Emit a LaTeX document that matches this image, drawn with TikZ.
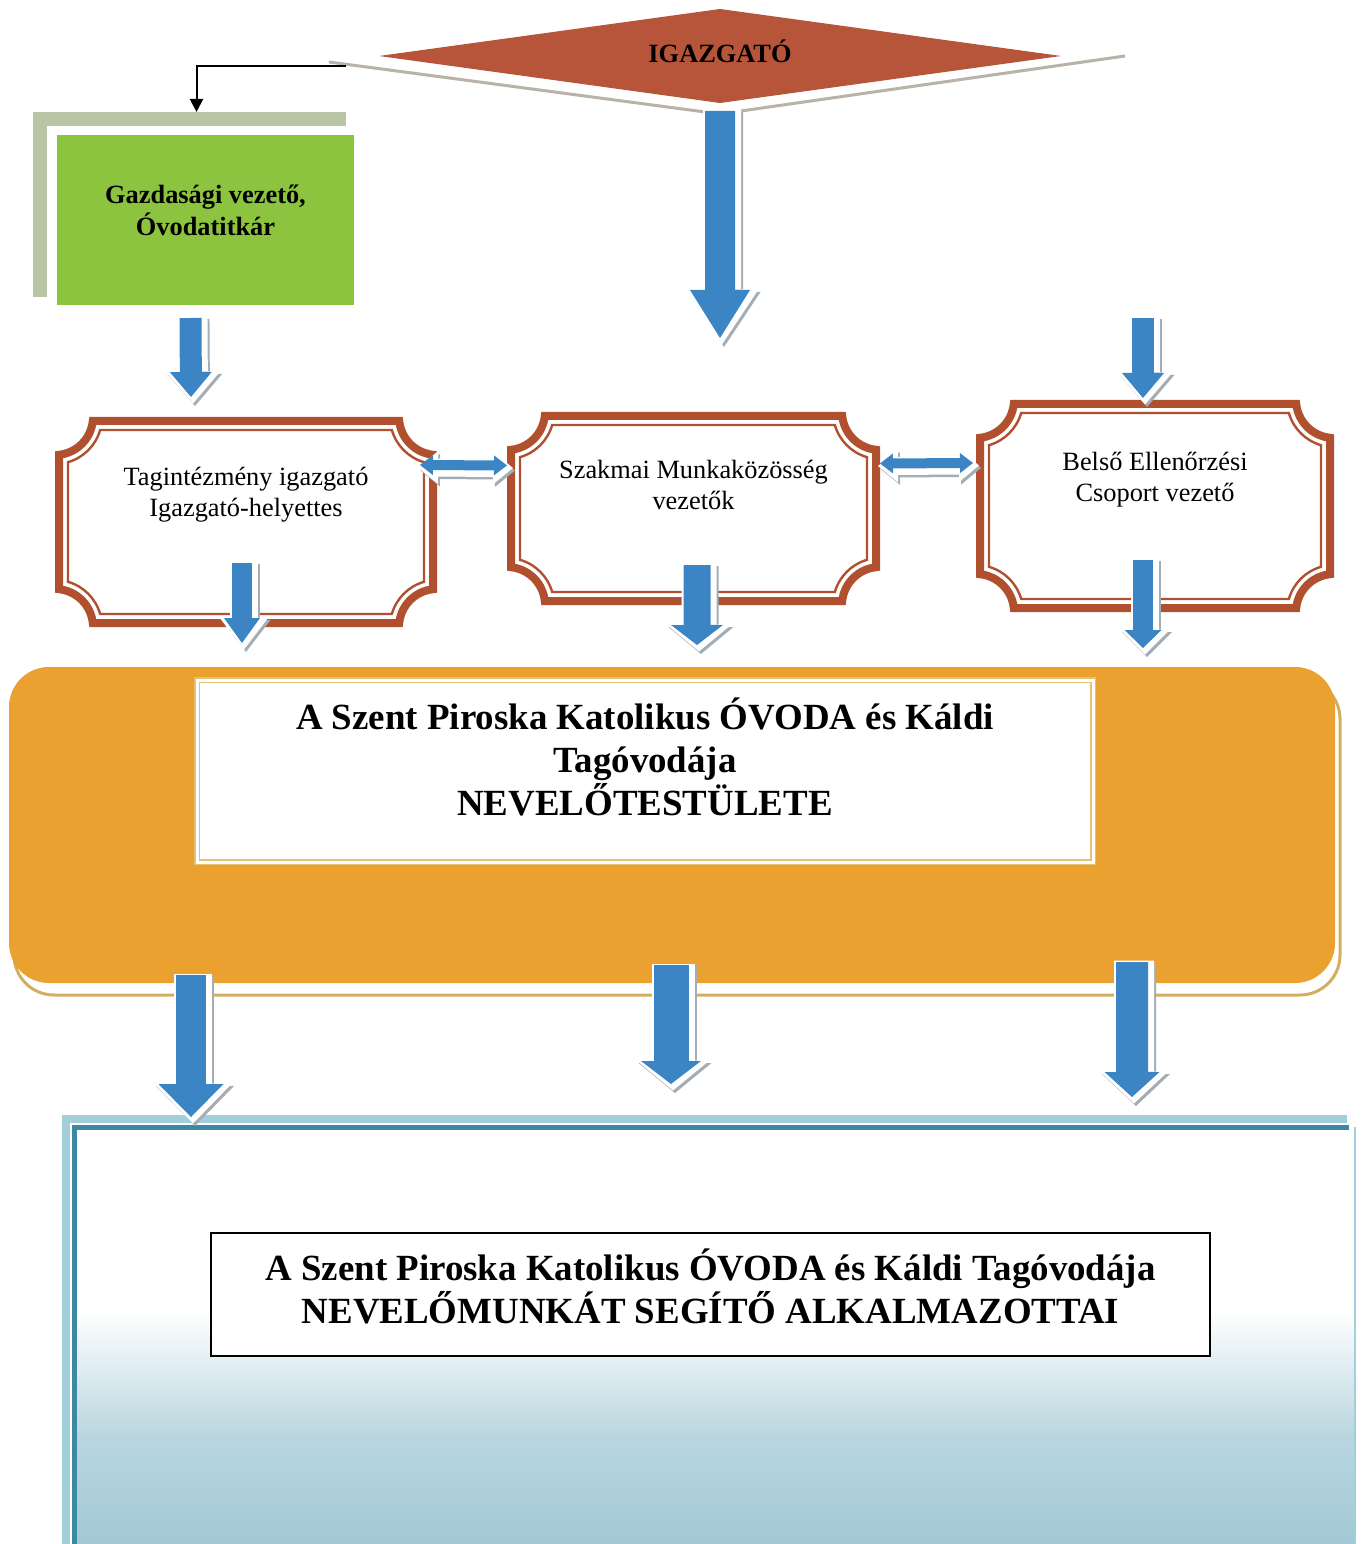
\documentclass[tikz,border=0pt]{standalone}
\usepackage{fontspec}
\setmainfont{Liberation Serif}
\usetikzlibrary{shapes.geometric,arrows.meta,positioning,calc,shadows}
\definecolor{rust}{HTML}{B6553A}
\definecolor{framebrown}{HTML}{B0502F}
\definecolor{leafgreen}{HTML}{8DC43F}
\definecolor{sagegray}{HTML}{BAC5A8}
\definecolor{flowblue}{HTML}{3C85C4}
\definecolor{shadegray}{HTML}{A2ADB6}
\definecolor{amber}{HTML}{EBA12F}
\definecolor{amberline}{HTML}{D4AE60}
\definecolor{titleline}{HTML}{E2C277}
\definecolor{tealdark}{HTML}{3D88A3}
\definecolor{teallight}{HTML}{A3CEDB}
\definecolor{mistblue}{HTML}{A2C9D5}
\definecolor{stonegray}{HTML}{B9B2A8}

\pgfdeclareverticalshading{segitoshade}{100bp}{color(0bp)=(mistblue); color(25bp)=(mistblue); color(38bp)=(mistblue!75!white); color(53bp)=(white); color(100bp)=(white)}

\newcommand{\pxl}{0.2mm}

% frame with hollow corners: node, inset, corner radius
\newcommand{\plaquepath}[3]{%
  ($(#1.north)+(0,#2)$) -- ($(#1.north east)+({-sqrt(#3*#3-#2*#2)},#2)$)
  arc[start angle={180-asin(#2/#3)}, end angle={90+asin(#2/#3)}, radius=#3]
  -- ($(#1.south east)+(-#2,{-sqrt(#3*#3-#2*#2)})$)
  arc[start angle={270-asin(#2/#3)}, end angle={180+asin(#2/#3)}, radius=#3]
  -- ($(#1.south west)+({sqrt(#3*#3-#2*#2)},-#2)$)
  arc[start angle={-asin(#2/#3)}, end angle={asin(#2/#3)-90}, radius=#3]
  -- ($(#1.north west)+(#2,{sqrt(#3*#3-#2*#2)})$)
  arc[start angle={90-asin(#2/#3)}, end angle={asin(#2/#3)}, radius=#3]
  -- cycle}
\newcommand{\plaqueframe}[1]{%
  \draw[framebrown, line width=8*\pxl] \plaquepath{#1}{4}{38};
  \draw[framebrown, line width=2.4*\pxl] \plaquepath{#1}{13}{47};
}

% blue block arrow: tips, shaft, head width, head length (mm), from, to
\newcommand{\flowarrow}[6]{%
  \pgfmathsetmacro\haloshaft{#2+1.6}%
  \pgfmathsetmacro\halowidth{#3+2.6}%
  \pgfmathsetmacro\halolength{#4+1.4}%
  \draw[>={Triangle[width=\halowidth mm, length=\halolength mm, line width=0pt]}, #1, arrowshade,
    line width=\haloshaft mm, shorten >=-0.8mm, shorten <=-0.8mm, transform canvas={shift={(4,5)}}] #5 -- #6;
  \draw[>={Triangle[width=\halowidth mm, length=\halolength mm, line width=0pt]}, #1, arrowhalo,
    line width=\haloshaft mm, shorten >=-0.8mm, shorten <=-0.8mm, transform canvas={shift={(2,2.5)}}] #5 -- #6;
  \draw[>={Triangle[width=#3mm, length=#4mm, line width=0pt]}, #1, arrowbody,
    line width=#2mm] #5 -- #6;
}

\begin{document}
\begin{tikzpicture}[x=0.2mm, y=-0.2mm,
  every node/.style={inner sep=0pt, outer sep=0pt},
  plaque/.style={align=center, font=\fontsize{15}{17.5}\selectfont},
  titletext/.style={align=center, font=\bfseries\fontsize{21}{24.5}\selectfont},
  arrowbody/.style={draw=flowblue},
  arrowhalo/.style={draw=white},
  arrowshade/.style={draw=shadegray},
  connector/.style={draw=black, line width=0.4mm, -{Triangle[length=2.6mm, width=2.6mm]}}
]
\useasboundingbox (0,0) rectangle (1362,1544);

% director
\node[diamond, aspect=7.2, fill=rust, minimum width=682*\pxl, minimum height=94*\pxl, text depth=2mm,
  font=\bfseries\fontsize{15}{18}\selectfont] (igazgato) at (720,56) {IGAZGATÓ};
\draw[stonegray, line width=3*\pxl] ($(igazgato.west)+(-50,6)$) -- ($(igazgato.south)+(0,11)$) -- ($(igazgato.east)+(64,0)$);

% economic leader
\fill[sagegray] (33,112) rectangle (346,297);
\fill[white] (47,126) rectangle (360,310);
\node[fill=leafgreen, minimum width=297*\pxl, minimum height=170*\pxl, align=center, text depth=4mm,
  font=\bfseries\fontsize{15}{18.5}\selectfont] (gazd) at (205.5,220) {Gazdasági vezető,\\Óvodatitkár};
\draw[connector] ($(igazgato.west)+(-33,10)$) -| ($(gazd.north)+(-9,-23)$);

% middle row
\node[plaque, minimum width=382*\pxl, minimum height=210*\pxl, text depth=12mm] (tag) at (246,522) {Tagintézmény igazgató\\Igazgató-helyettes};
\node[plaque, minimum width=373*\pxl, minimum height=193*\pxl, text depth=9.4mm] (szak) at (693.5,508.5) {Szakmai Munkaközösség\\vezetők};
\node[plaque, minimum width=358*\pxl, minimum height=212*\pxl, text depth=11.6mm] (belso) at (1155,506) {Belső Ellenőrzési\\Csoport vezető};
\plaqueframe{tag}
\plaqueframe{szak}
\plaqueframe{belso}

% teaching staff
\node[fill=amber, rounded corners=8mm, minimum width=1326*\pxl, minimum height=316*\pxl,
  drop shadow={shadow xshift=1mm, shadow yshift=-2.4mm, fill=white, draw=amberline, line width=0.6mm, opacity=1}] (testulet) at (672,825) {};
\node[titletext, fill=white, draw=titleline, line width=0.3mm, double=white, double distance=0.6mm,
  minimum width=896*\pxl, minimum height=182*\pxl, text depth=5.6mm] (testcim) at (645,771)
  {A Szent Piroska Katolikus ÓVODA és Káldi\\Tagóvodája\\NEVELŐTESTÜLETE};

% assistant staff
\node[shade, shading=segitoshade, minimum width=1281*\pxl, minimum height=417*\pxl] (segito) at (714.5,1335.5) {};
\draw[teallight, line width=8*\pxl] ($(segito.south west)+(-8,0)$) -- ($(segito.north west)+(-8,-8)$) -- ($(segito.north east)+(-8,-8)$);
\draw[tealdark, line width=5*\pxl] (segito.south west) -- (segito.north west) -- ($(segito.north east)+(-6,0)$);
\draw[teallight, line width=2*\pxl] (segito.north east) -- (segito.south east);
\node[titletext, fill=white, draw=black, line width=0.4mm, minimum width=999*\pxl, minimum height=123*\pxl,
  text depth=3.2mm] (segitocim) at (710.5,1294.5)
  {A Szent Piroska Katolikus ÓVODA és Káldi Tagóvodája\\NEVELŐMUNKÁT SEGÍTŐ ALKALMAZOTTAI};

% block arrows
\flowarrow{->}{6}{12}{9.6}{($(igazgato.south)+(0,8)$)}{($(szak.north)+(26.5,-74)$)}
\flowarrow{->}{4.4}{8.4}{5}{($(gazd.south)+(-15,13)$)}{($(tag.north)+(-55,-20)$)}
\flowarrow{->}{4.4}{8.4}{5}{($(belso.north)+(-12,-82)$)}{($(belso.north)+(-12,-2)$)}
\flowarrow{<->}{2}{4}{2.6}{($(tag.east)+(-17,-57)$)}{($(szak.west)+(0,-43)$)}
\flowarrow{<->}{2}{4}{2.6}{($(szak.east)+(0,-45)$)}{($(belso.west)+(-3,-43)$)}
\flowarrow{->}{4}{7.2}{5}{($(tag.south)+(-4,-64)$)}{($(testulet.north)+(-430,-24)$)}
\flowarrow{->}{5.4}{10.4}{4}{($(szak.south)+(3.5,-40)$)}{($(testulet.north)+(25,-22)$)}
\flowarrow{->}{4}{7.4}{3.6}{($(belso.south)+(-12,-52)$)}{($(testulet.north)+(471,-19)$)}
\flowarrow{->}{6}{13}{6.6}{($(testulet.south)+(-481,-8)$)}{($(segito.north)+(-523.5,-10)$)}
\flowarrow{->}{7}{12}{4.6}{($(testulet.south)+(-1,-18)$)}{($(segito.north)+(-43.5,-43)$)}
\flowarrow{->}{6.4}{11}{5}{($(testulet.south)+(460,-21)$)}{($(segito.north)+(417.5,-30)$)}
\end{tikzpicture}
\end{document}
